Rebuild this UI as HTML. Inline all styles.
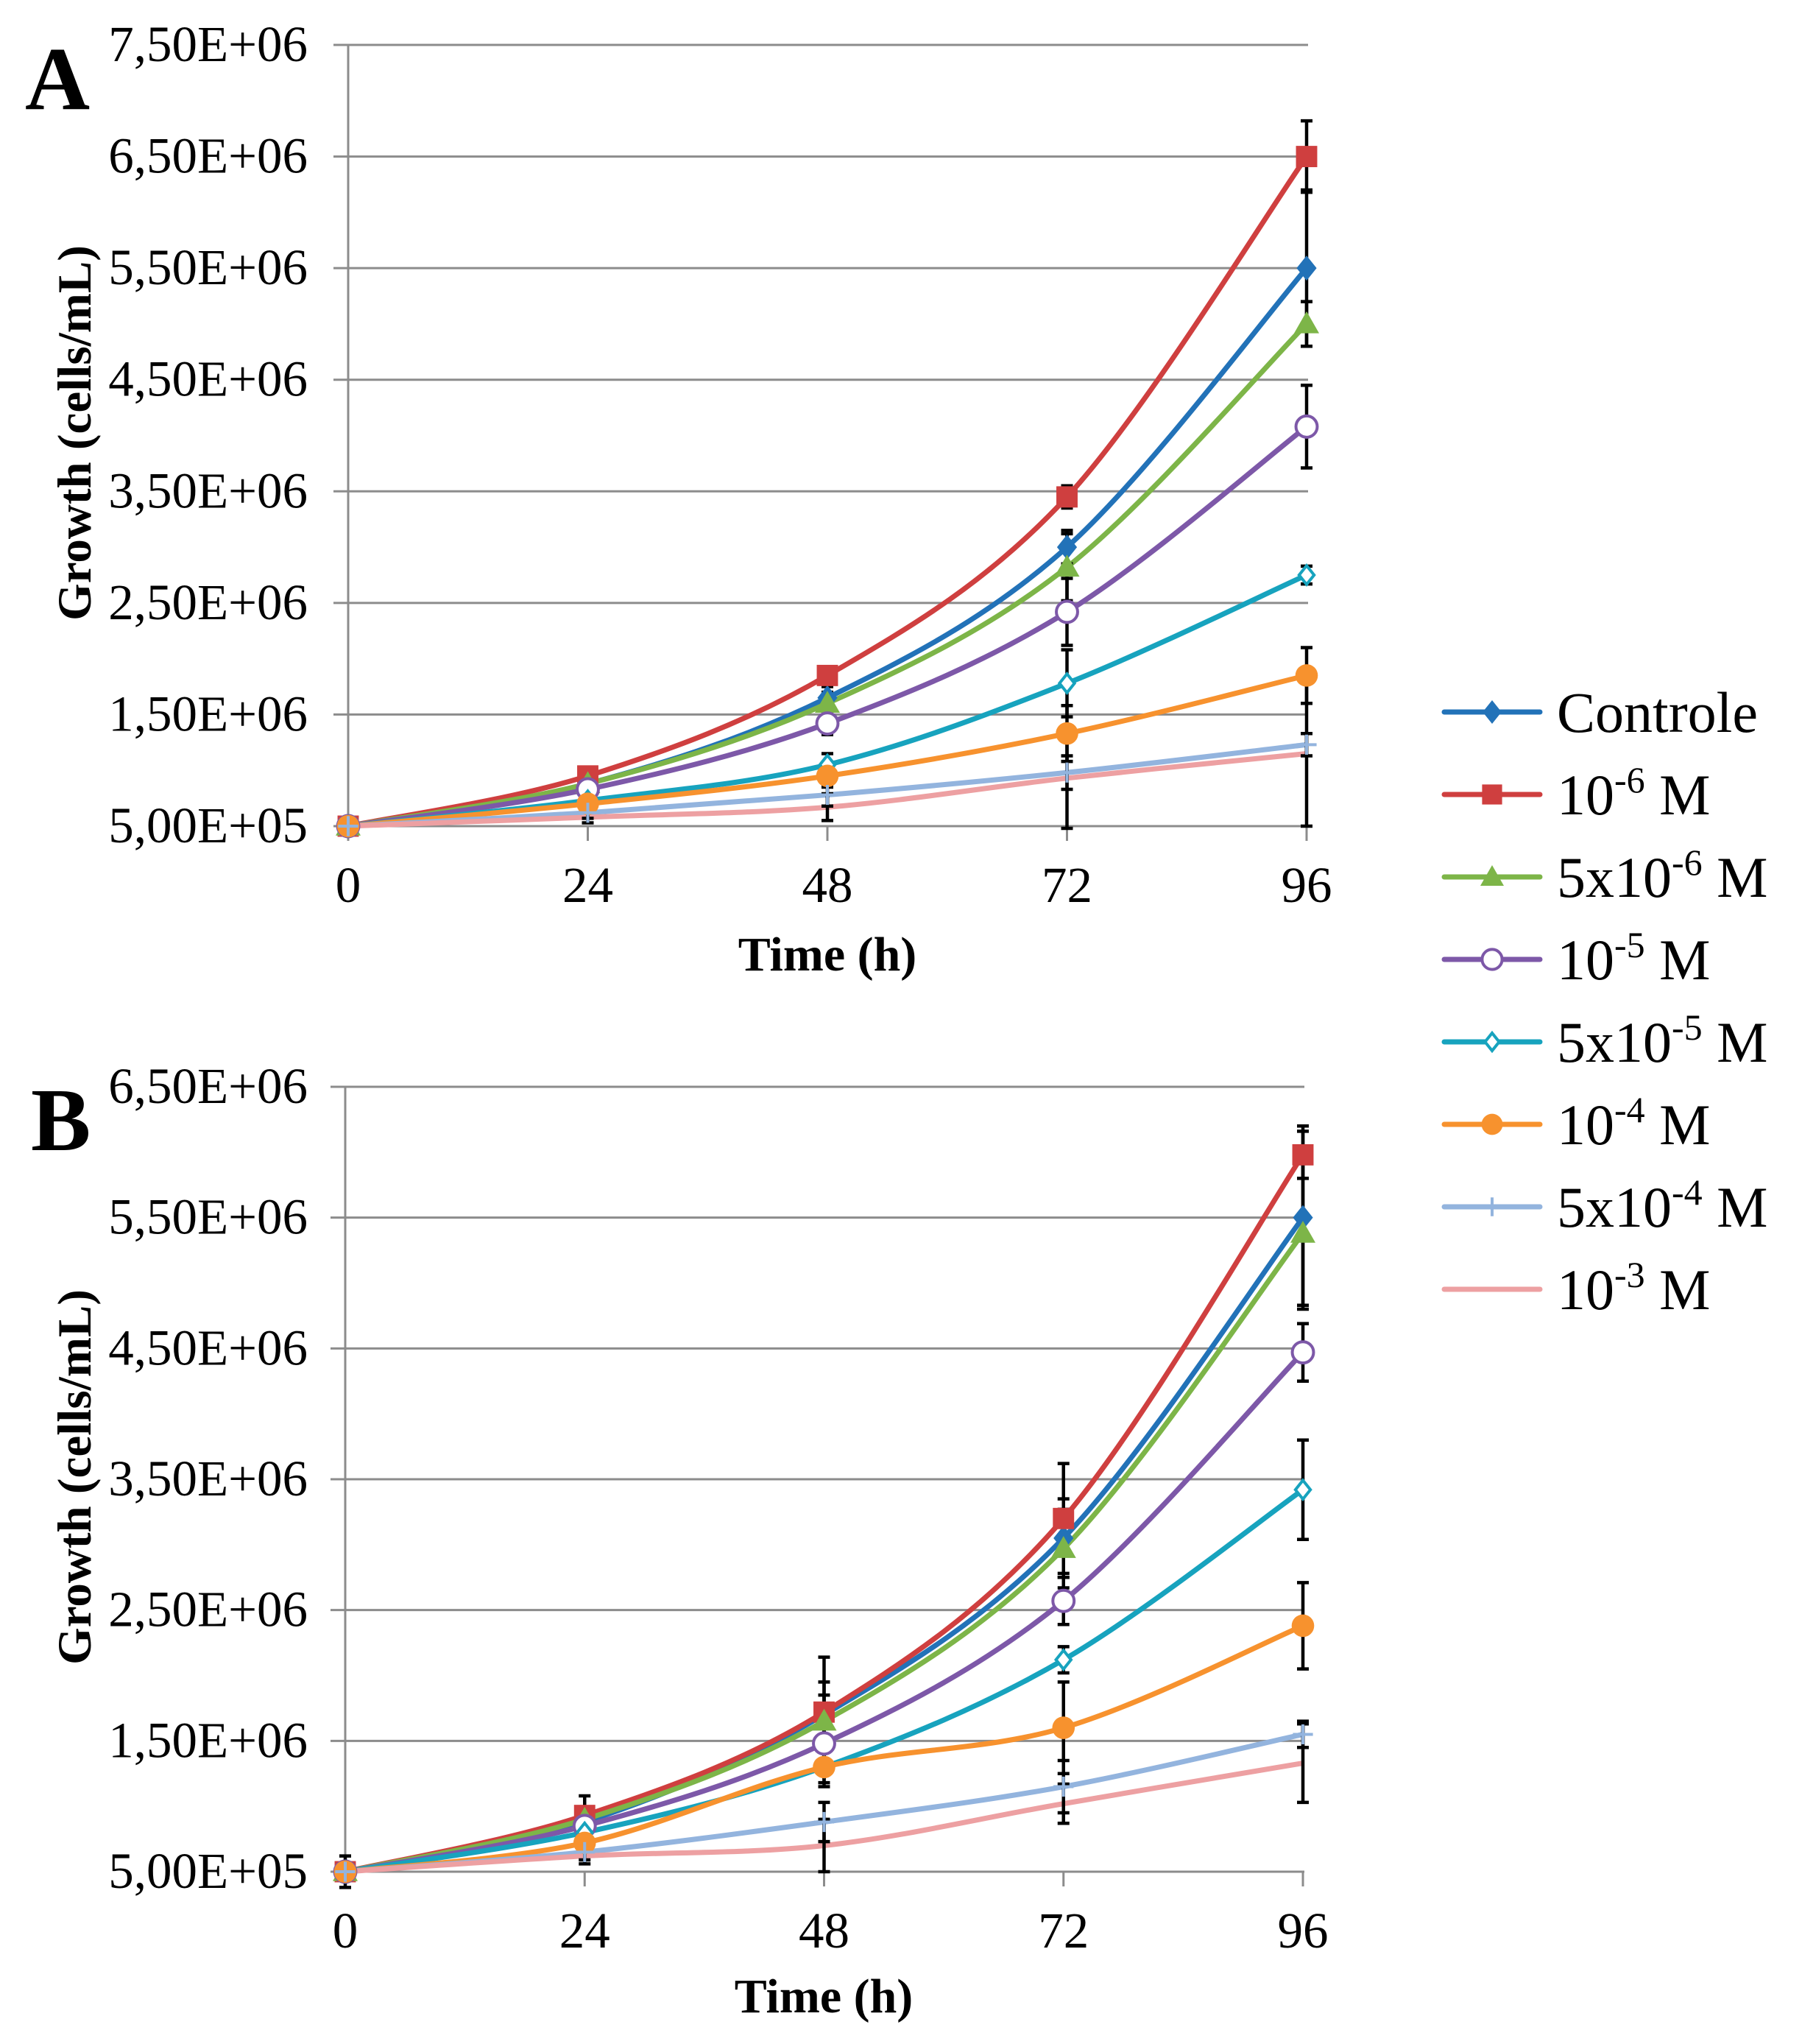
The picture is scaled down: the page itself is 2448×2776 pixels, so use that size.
<!DOCTYPE html>
<html><head><meta charset="utf-8"><style>
html,body{margin:0;padding:0;background:#fff}
svg{display:block}
text{font-family:"Liberation Serif",serif;fill:#000}
</style></head><body>
<svg id="root" width="2448" height="2776" viewBox="0 0 2448 2776" xmlns="http://www.w3.org/2000/svg">
<g id="panelA"></g>
<g id="panelB"></g>
<g id="legend"></g>
</svg>
<script>
const timePoints = [0, 24, 48, 72, 96];
const xTickLabels = ["0", "24", "48", "72", "96"];
const seriesNames = ["Controle", "10^-6", "5x10^-6", "10^-5", "5x10^-5", "10^-4", "5x10^-4", "10^-3"];
const seriesColors = ["#2272B8", "#CF3F3F", "#7DB548", "#7D58A8", "#17A3BE", "#F7922E", "#93B4DE", "#EDA0A2"];
const seriesMarkers = ["diamond", "square", "triangle", "circleOpen", "diamondOpen", "circle", "plus", "none"];

// Panel A values (x 1E6 cells/mL)
const aControle = [0.5, 0.88, 1.65, 3.0, 5.5];
const a1e6 = [0.5, 0.95, 1.85, 3.45, 6.5];
const a5e6 = [0.5, 0.88, 1.6, 2.82, 5.0];
const a1e5 = [0.5, 0.83, 1.42, 2.42, 4.08];
const a5e5 = [0.5, 0.73, 1.05, 1.78, 2.75];
const a1e4 = [0.5, 0.70, 0.95, 1.33, 1.85];
const a5e4 = [0.5, 0.62, 0.78, 0.98, 1.23];
const a1e3 = [0.5, 0.58, 0.67, 0.93, 1.15];
const aErr = [
  [0.03, 0.05, 0.1, 0.15, 0.7],
  [0.03, 0.05, 0.08, 0.1, 0.32],
  [0.03, 0.05, 0.1, 0.3, 0.2],
  [0.03, 0.05, 0.1, 0.3, 0.37],
  [0.03, 0.05, 0.1, 0.3, 0.08],
  [0.03, 0.05, 0.1, 0.25, 0.25],
  [0.03, 0.05, 0.1, 0.15, 0.1],
  [0.03, 0.05, 0.12, 0.45, 0.65]
];
const aTickLabels = ["5,00E+05","1,50E+06","2,50E+06","3,50E+06","4,50E+06","5,50E+06","6,50E+06","7,50E+06"];
const aTickValues = [0.5, 1.5, 2.5, 3.5, 4.5, 5.5, 6.5, 7.5];

// Panel B values
const bControle = [0.5, 0.88, 1.7, 3.05, 5.5];
const b1e6 = [0.5, 0.93, 1.72, 3.2, 5.98];
const b5e6 = [0.5, 0.9, 1.65, 2.97, 5.38];
const b1e5 = [0.5, 0.85, 1.48, 2.57, 4.47];
const b5e5 = [0.5, 0.8, 1.3, 2.12, 3.42];
const b1e4 = [0.5, 0.72, 1.3, 1.6, 2.38];
const b5e4 = [0.5, 0.65, 0.88, 1.15, 1.55];
const b1e3 = [0.5, 0.62, 0.7, 1.02, 1.33];
const bErr = [
  [0.03, 0.08, 0.25, 0.3, 0.7],
  [0.12, 0.15, 0.42, 0.42, 0.18],
  [0.03, 0.08, 0.2, 0.3, 0.55],
  [0.03, 0.06, 0.15, 0.18, 0.22],
  [0.03, 0.06, 0.12, 0.1, 0.38],
  [0.03, 0.06, 0.15, 0.35, 0.33],
  [0.03, 0.06, 0.15, 0.2, 0.1],
  [0.03, 0.06, 0.2, 0.15, 0.3]
];
const bTickLabels = ["5,00E+05","1,50E+06","2,50E+06","3,50E+06","4,50E+06","5,50E+06","6,50E+06"];
const bTickValues = [0.5, 1.5, 2.5, 3.5, 4.5, 5.5, 6.5];

const NS = "http://www.w3.org/2000/svg";
function mk(tag, attrs, parent){ const e=document.createElementNS(NS,tag); for(const k in attrs) e.setAttribute(k,attrs[k]); parent.appendChild(e); return e; }

function smoothPath(pts){
  let d = "M"+pts[0][0]+","+pts[0][1];
  for(let i=0;i<pts.length-1;i++){
    const p0=pts[i-1]||pts[i], p1=pts[i], p2=pts[i+1], p3=pts[i+2]||p2;
    const c1=[p1[0]+(p2[0]-p0[0])/6, p1[1]+(p2[1]-p0[1])/6];
    const c2=[p2[0]-(p3[0]-p1[0])/6, p2[1]-(p3[1]-p1[1])/6];
    d+=" C"+c1[0]+","+c1[1]+" "+c2[0]+","+c2[1]+" "+p2[0]+","+p2[1];
  }
  return d;
}

function marker(g, type, x, y, color, s){
  let e=null;
  if(type==="diamond") e=mk("polygon",{points:`${x},${y-s} ${x+s*0.8},${y} ${x},${y+s} ${x-s*0.8},${y}`,fill:color},g);
  else if(type==="square") e=mk("rect",{x:x-s*0.85,y:y-s*0.85,width:s*1.7,height:s*1.7,fill:color},g);
  else if(type==="triangle") e=mk("polygon",{points:`${x},${y-s} ${x+s},${y+s*0.75} ${x-s},${y+s*0.75}`,fill:color},g);
  else if(type==="circleOpen") e=mk("circle",{cx:x,cy:y,r:s*0.85,fill:"#fff",stroke:color,"stroke-width":4},g);
  else if(type==="diamondOpen") e=mk("polygon",{points:`${x},${y-s*0.75} ${x+s*0.6},${y} ${x},${y+s*0.75} ${x-s*0.6},${y}`,fill:"#fff",stroke:color,"stroke-width":4},g);
  else if(type==="circle") e=mk("circle",{cx:x,cy:y,r:s*0.9,fill:color},g);
  else if(type==="plus") e=mk("path",{d:`M${x-s*0.8},${y}H${x+s*0.8}M${x},${y-s*0.8}V${y+s*0.8}`,stroke:color,"stroke-width":4},g);
  return e;
}

function drawPanel(g, cfg){
  const xS = t => cfg.x0 + (t/96)*(cfg.x1-cfg.x0);
  const yS = v => cfg.yB - (v-cfg.vMin)/(cfg.vMax-cfg.vMin)*(cfg.yB-cfg.yT);
  cfg.tickValues.forEach((v,i)=>{
    const gl=mk("line",{x1:cfg.x0-20,x2:cfg.x1+2,y1:yS(v),y2:yS(v),stroke:"#8c8c8c","stroke-width":3},g);
    
    
    const t=mk("text",{x:418,y:yS(v)+22,"text-anchor":"end","font-size":69},g);
    t.textContent=cfg.tickLabels[i];
    
    
  });
  const ax=mk("line",{x1:cfg.x0,x2:cfg.x0,y1:cfg.yT,y2:cfg.yB,stroke:"#8c8c8c","stroke-width":3},g);
  
  
  timePoints.forEach((t,i)=>{
    const tk=mk("line",{x1:xS(t),x2:xS(t),y1:cfg.yB,y2:cfg.yB+20,stroke:"#8c8c8c","stroke-width":3},g);
    
    
    const tl=mk("text",{x:xS(t),y:cfg.yB+103,"text-anchor":"middle","font-size":69},g);
    tl.textContent=xTickLabels[i];
    
    
  });
  cfg.series.forEach((vals,si)=>{
    const p=mk("path",{d:smoothPath(vals.map((v,i)=>[xS(timePoints[i]),yS(v)])),fill:"none",stroke:seriesColors[si],"stroke-width":7,"stroke-linejoin":"round"},g);
    
    
  });
  cfg.series.forEach((vals,si)=>{
    vals.forEach((v,i)=>{
      const e=cfg.err[si][i], x=xS(timePoints[i]);
      const eb=mk("path",{d:`M${x},${yS(v-e)}V${yS(v+e)}M${x-8},${yS(v-e)}H${x+8}M${x-8},${yS(v+e)}H${x+8}`,stroke:"#000","stroke-width":4.5,fill:"none"},g);
      
      
    });
  });
  cfg.series.forEach((vals,si)=>{
    vals.forEach((v,i)=>{
      const m=marker(g,seriesMarkers[si],xS(timePoints[i]),yS(v),seriesColors[si],17);
      if(m){
        
        
      }
    });
  });
  const xt=mk("text",{x:cfg.xTitleX,y:cfg.xTitleY,"text-anchor":"middle","font-size":66,"font-weight":"bold"},g);
  xt.textContent="Time (h)";
  
  
  const yt=mk("text",{x:0,y:0,"text-anchor":"middle","font-size":65,"font-weight":"bold",transform:`translate(123,${cfg.yTitleY}) rotate(-90)`},g);
  yt.textContent="Growth (cells/mL)";
  
  
  const pl=mk("text",{x:cfg.labX,y:cfg.labY,"font-size":122,"font-weight":"bold"},g);
  pl.textContent=cfg.label;
  
  
}

drawPanel(document.getElementById("panelA"),{
  x0:473,x1:1775,yT:61,yB:1122,vMin:0.5,vMax:7.5,
  tickValues:aTickValues,tickLabels:aTickLabels,
  series:[aControle,a1e6,a5e6,a1e5,a5e5,a1e4,a5e4,a1e3],err:aErr,
  xTitleX:1124,xTitleY:1318,yTitleY:588,label:"A",labX:34,labY:148
});
drawPanel(document.getElementById("panelB"),{
  x0:469,x1:1770,yT:1476,yB:2542,vMin:0.5,vMax:6.5,
  tickValues:bTickValues,tickLabels:bTickLabels,
  series:[bControle,b1e6,b5e6,b1e5,b5e5,b1e4,b5e4,b1e3],err:bErr,
  xTitleX:1119,xTitleY:2733,yTitleY:2006,label:"B",labX:42,labY:1562
});

const lg=document.getElementById("legend");
const legendLabels=[["Controle",""],["10","-6"],["5x10","-6"],["10","-5"],["5x10","-5"],["10","-4"],["5x10","-4"],["10","-3"]];
legendLabels.forEach((lab,i)=>{
  const y=967+i*112;
  const g=mk("g",{},lg);
  
  
  mk("line",{x1:1962,x2:2092,y1:y,y2:y,stroke:seriesColors[i],"stroke-width":7,"stroke-linecap":"round"},g);
  marker(g,seriesMarkers[i],2027,y,seriesColors[i],16);
  const t=mk("text",{x:2115,y:y+27,"font-size":78},g);
  if(lab[1]===""){ t.textContent=lab[0]; }
  else{
    t.appendChild(document.createTextNode(lab[0]));
    const s=mk("tspan",{dy:-30,"font-size":50},t); s.textContent=lab[1];
    const m=mk("tspan",{dy:30,"font-size":78},t); m.textContent=" M";
  }
});
</script>
</body></html>
